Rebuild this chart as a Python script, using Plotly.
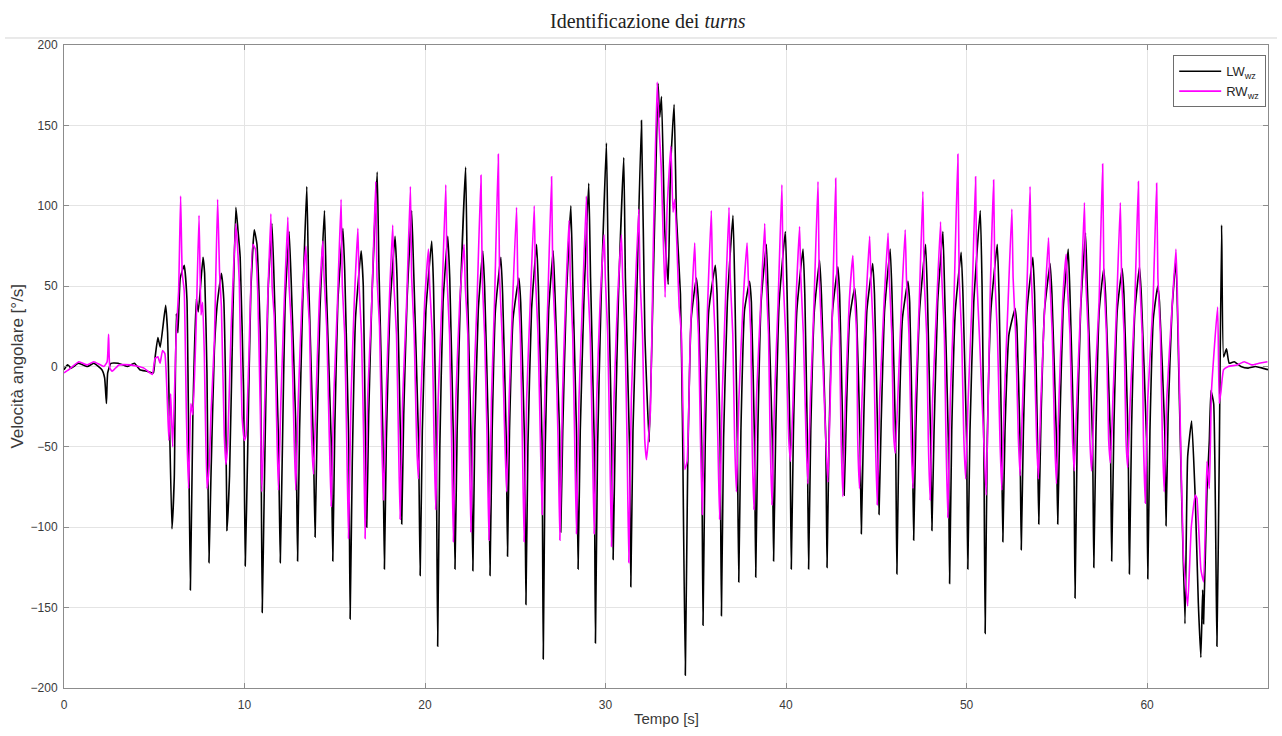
import plotly.graph_objects as go

# ---- data: (time [s], angular velocity [deg/s]) ----
LW_wz = [
    (0.0, -2), (0.2, 1), (0.4, -1), (0.8, 2), (1.3, 0), (1.65, 2), (2.1, -2), (2.25, -7), (2.35, -23),
    (2.42, -4), (2.6, 2), (3.0, 2), (3.5, 0), (3.9, 2), (4.2, -2), (4.6, -3), (4.95, -4), (5.05, 6),
    (5.2, 18), (5.33, 12), (5.63, 38), (5.74, 21), (5.82, -20), (5.98, -101), (6.11, -69), (6.22, 33),
    (6.31, 21), (6.44, 55), (6.66, 63), (6.81, 42), (7.0, -139), (7.14, -30), (7.33, 42), (7.44, 34),
    (7.7, 68), (7.79, 58), (7.92, -4), (8.03, -122), (8.14, -69), (8.33, 10), (8.5, 40), (8.72, 58),
    (8.85, 42), (8.94, -4), (9.03, -102), (9.17, -68), (9.36, 34), (9.52, 99), (9.63, 86), (9.76, 68),
    (9.95, -17), (10.04, -124), (10.17, -56), (10.35, 47), (10.54, 85), (10.69, 76), (10.87, 21),
    (10.98, -153), (11.09, -80), (11.3, 45), (11.52, 89), (11.62, 60), (11.88, -45), (11.98, -122),
    (12.1, -50), (12.25, 40), (12.47, 84), (12.58, 55), (12.85, -40), (12.94, -121), (13.05, -40),
    (13.2, 30), (13.45, 112), (13.55, 55), (13.82, -50), (13.91, -106), (14.02, -40), (14.18, 35),
    (14.43, 97), (14.53, 50), (14.8, -45), (14.89, -121), (15.0, -40), (15.17, 40), (15.45, 86),
    (15.55, 60), (15.78, -50), (15.85, -157), (15.97, -60), (16.15, 30), (16.46, 72), (16.58, 50),
    (16.7, -45), (16.77, -100), (16.88, -30), (17.05, 40), (17.35, 121), (17.45, 60), (17.66, -40),
    (17.75, -126), (17.86, -45), (18.05, 35), (18.34, 81), (18.45, 55), (18.64, -45), (18.71, -98),
    (18.82, -30), (19.0, 40), (19.26, 97), (19.37, 60), (19.64, -45), (19.73, -130), (19.85, -40),
    (20.05, 35), (20.37, 78), (20.47, 50), (20.62, -45), (20.7, -174), (20.82, -50), (21.0, 40),
    (21.26, 81), (21.37, 55), (21.58, -50), (21.66, -126), (21.78, -40), (21.95, 40), (22.25, 124),
    (22.35, 50), (22.55, -45), (22.65, -127), (22.76, -40), (22.95, 35), (23.2, 72), (23.3, 50),
    (23.52, -45), (23.6, -130), (23.72, -40), (23.9, 35), (24.2, 68), (24.3, 45), (24.5, -45),
    (24.57, -118), (24.68, -40), (24.88, 30), (25.2, 55), (25.3, 40), (25.52, -50), (25.59, -148),
    (25.7, -50), (25.9, 35), (26.18, 76), (26.28, 50), (26.48, -45), (26.55, -182), (26.66, -50),
    (26.85, 35), (27.1, 72), (27.2, 45), (27.45, -40), (27.52, -103), (27.63, -40), (27.82, 40),
    (28.08, 100), (28.18, 55), (28.4, -45), (28.48, -126), (28.6, -40), (28.8, 40), (29.07, 114),
    (29.17, 55), (29.37, -45), (29.44, -172), (29.56, -50), (29.75, 40), (30.05, 139), (30.15, 60),
    (30.35, -50), (30.42, -120), (30.54, -40), (30.72, 45), (31.01, 130), (31.1, 55), (31.33, -50),
    (31.4, -137), (31.52, -40), (31.72, 40), (31.99, 153), (32.18, 20), (32.42, -47), (32.64, 51),
    (32.79, 123), (32.91, 176), (33.0, 155), (33.1, 168), (33.28, 85), (33.47, 51), (33.6, 123),
    (33.8, 163), (33.93, 93), (34.15, 45), (34.26, -32), (34.42, -192), (34.55, -64), (34.75, 30),
    (35.03, 55), (35.15, 40), (35.33, -50), (35.4, -161), (35.52, -50), (35.72, 35), (36.08, 63),
    (36.18, 45), (36.35, -50), (36.42, -155), (36.54, -45), (36.75, 40), (37.06, 94), (37.16, 50),
    (37.3, -45), (37.38, -134), (37.5, -40), (37.7, 35), (37.98, 53), (38.08, 40), (38.25, -45),
    (38.32, -131), (38.44, -40), (38.62, 40), (38.91, 76), (39.01, 45), (39.24, -45), (39.31, -121),
    (39.43, -40), (39.62, 40), (39.96, 84), (40.06, 45), (40.22, -45), (40.29, -126), (40.41, -40),
    (40.6, 35), (40.94, 73), (41.04, 45), (41.18, -45), (41.25, -126), (41.37, -40), (41.57, 35),
    (41.86, 66), (41.96, 45), (42.2, -45), (42.27, -125), (42.39, -40), (42.58, 35), (42.87, 62),
    (42.97, 45), (43.15, -45), (43.22, -80), (43.34, -30), (43.52, 30), (43.8, 49), (43.9, 35),
    (44.1, -45), (44.17, -104), (44.29, -40), (44.48, 35), (44.8, 64), (44.9, 45), (45.08, -45),
    (45.15, -92), (45.27, -35), (45.46, 35), (45.77, 73), (45.87, 45), (46.07, -45), (46.14, -129),
    (46.26, -40), (46.45, 30), (46.75, 53), (46.85, 40), (47.0, -45), (47.07, -108), (47.19, -40),
    (47.4, 35), (47.73, 76), (47.83, 45), (48.01, -45), (48.08, -102), (48.2, -40), (48.4, 40),
    (48.69, 84), (48.79, 45), (48.99, -45), (49.06, -135), (49.18, -40), (49.38, 35), (49.7, 71),
    (49.8, 45), (50.0, -45), (50.07, -126), (50.19, -40), (50.4, 40), (50.76, 97), (50.86, 50),
    (50.96, -50), (51.03, -166), (51.15, -45), (51.35, 35), (51.7, 76), (51.8, 45), (51.94, -45),
    (52.01, -109), (52.13, -40), (52.35, 20), (52.69, 36), (52.79, 25), (52.96, -45), (53.03, -114),
    (53.15, -40), (53.35, 35), (53.67, 68), (53.77, 45), (53.93, -45), (54.0, -98), (54.12, -35),
    (54.32, 35), (54.63, 64), (54.73, 45), (54.98, -45), (55.05, -98), (55.17, -35), (55.35, 35),
    (55.63, 73), (55.73, 45), (55.94, -45), (56.01, -144), (56.13, -45), (56.32, 35), (56.59, 83),
    (56.69, 50), (56.98, -45), (57.05, -125), (57.17, -40), (57.35, 35), (57.6, 61), (57.7, 45),
    (57.97, -45), (58.04, -121), (58.16, -40), (58.35, 35), (58.62, 61), (58.72, 45), (58.95, -45),
    (59.02, -129), (59.14, -40), (59.33, 35), (59.58, 62), (59.68, 45), (59.97, -45), (60.04, -132),
    (60.16, -40), (60.35, 30), (60.59, 50), (60.69, 40), (60.98, -40), (61.05, -99), (61.17, -30),
    (61.38, 35), (61.6, 66), (61.79, -20), (62.1, -160), (62.25, -56), (62.47, -34), (62.67, -82),
    (62.84, -147), (62.98, -181), (63.08, -139), (63.13, -160), (63.32, -77), (63.45, -46),
    (63.54, -15), (63.69, -23), (63.87, -174), (64.0, -56), (64.13, 88), (64.24, 6), (64.4, 11),
    (64.55, 2), (64.83, 3), (65.2, 0), (65.6, -1), (66.0, 0), (66.4, -1), (66.7, -2),
]

RW_wz = [
    (0.0, -4), (0.27, -2), (0.82, 3), (1.28, 1), (1.65, 3), (2.21, 0), (2.39, 3), (2.47, 20), (2.54, -1),
    (2.67, -3), (3.04, 1), (3.69, 1), (4.43, -1), (4.89, -5), (5.04, 5), (5.2, 6), (5.32, 2), (5.46, 10),
    (5.59, 8), (5.81, -46), (5.91, -17), (6.02, -50), (6.22, 21), (6.35, 47), (6.46, 106), (6.55, 58),
    (6.66, 47), (6.78, -30), (6.9, -76), (7.03, -23), (7.14, -30), (7.31, 21), (7.48, 94), (7.59, 32),
    (7.68, 40), (7.77, 9), (7.92, -76), (8.05, -61), (8.14, -30), (8.33, 16), (8.51, 104), (8.62, 58),
    (8.72, 37), (8.88, -43), (8.97, -61), (9.07, -48), (9.25, 21), (9.52, 89), (9.62, 73), (9.71, 53),
    (9.86, -30), (9.99, -46), (10.08, -43), (10.23, 1), (10.46, 76), (10.6, 73), (10.73, 47),
    (10.88, -30), (10.96, -78), (11.1, -30), (11.28, 40), (11.46, 95), (11.53, 50), (11.65, 30),
    (11.8, -45), (11.88, -77), (12.02, -20), (12.2, 40), (12.4, 93), (12.47, 50), (12.6, 25),
    (12.75, -45), (12.84, -77), (12.98, -20), (13.18, 40), (13.4, 75), (13.47, 50), (13.6, 25),
    (13.72, -45), (13.82, -67), (13.96, -20), (14.14, 40), (14.34, 78), (14.41, 55), (14.55, 25),
    (14.7, -45), (14.8, -87), (14.94, -20), (15.15, 40), (15.35, 104), (15.42, 50), (15.55, 20),
    (15.66, -45), (15.76, -107), (15.9, -20), (16.08, 40), (16.28, 86), (16.35, 50), (16.48, 20),
    (16.6, -45), (16.68, -107), (16.82, -20), (17.05, 40), (17.27, 115), (17.34, 55), (17.48, 25),
    (17.6, -45), (17.7, -83), (17.84, -20), (18.02, 40), (18.21, 88), (18.28, 50), (18.42, 20),
    (18.53, -45), (18.62, -95), (18.76, -20), (18.98, 40), (19.19, 112), (19.26, 55), (19.4, 20),
    (19.53, -45), (19.63, -70), (19.77, -20), (19.98, 40), (20.19, 73), (20.26, 50), (20.4, 20),
    (20.5, -45), (20.59, -89), (20.73, -20), (20.93, 40), (21.15, 113), (21.22, 55), (21.36, 20),
    (21.47, -45), (21.57, -109), (21.71, -20), (21.92, 40), (22.16, 76), (22.23, 50), (22.37, 20),
    (22.45, -45), (22.54, -103), (22.68, -20), (22.88, 40), (23.1, 119), (23.17, 55), (23.3, 20),
    (23.44, -45), (23.54, -108), (23.68, -20), (23.85, 40), (24.06, 132), (24.13, 55), (24.27, 20),
    (24.42, -45), (24.52, -78), (24.66, -20), (24.85, 40), (25.07, 99), (25.14, 55), (25.28, 20),
    (25.39, -45), (25.49, -109), (25.63, -20), (25.83, 40), (26.05, 100), (26.12, 55), (26.26, 20),
    (26.39, -45), (26.49, -92), (26.63, -20), (26.8, 40), (27.01, 118), (27.08, 55), (27.22, 20),
    (27.37, -45), (27.47, -108), (27.61, -20), (27.78, 40), (27.98, 91), (28.05, 55), (28.18, 20),
    (28.29, -45), (28.39, -104), (28.53, -20), (28.72, 40), (28.94, 106), (29.01, 55), (29.15, 20),
    (29.27, -45), (29.37, -104), (29.51, -20), (29.7, 40), (29.92, 82), (29.99, 55), (30.12, 20),
    (30.23, -45), (30.33, -112), (30.47, -20), (30.66, 40), (30.88, 82), (30.95, 55), (31.08, 20),
    (31.19, -45), (31.29, -122), (31.43, -20), (31.62, 40), (31.84, 98), (31.91, 55), (32.05, 20),
    (32.17, -45), (32.27, -58), (32.49, -27), (32.64, 72), (32.86, 177), (32.97, 148), (33.08, 125),
    (33.3, 43), (33.41, 98), (33.62, 137), (33.74, 96), (33.84, 104), (34.08, 37), (34.2, 21),
    (34.39, -64), (34.52, -59), (34.7, 20), (34.94, 77), (35.01, 50), (35.15, 20), (35.26, -45),
    (35.36, -92), (35.5, -20), (35.66, 40), (35.86, 97), (35.93, 55), (36.07, 20), (36.22, -45),
    (36.32, -95), (36.46, -20), (36.64, 40), (36.84, 99), (36.91, 55), (37.05, 20), (37.15, -45),
    (37.25, -78), (37.39, -20), (37.62, 40), (37.84, 77), (37.91, 55), (38.05, 20), (38.12, -45),
    (38.22, -89), (38.36, -20), (38.6, 40), (38.82, 89), (38.89, 55), (39.03, 20), (39.12, -45),
    (39.22, -86), (39.36, -20), (39.56, 40), (39.77, 113), (39.84, 55), (39.98, 20), (40.15, -45),
    (40.25, -59), (40.39, -20), (40.55, 40), (40.75, 87), (40.82, 55), (40.96, 20), (41.11, -45),
    (41.21, -73), (41.35, -20), (41.55, 40), (41.77, 115), (41.84, 55), (41.98, 20), (42.2, -45),
    (42.32, -72), (42.45, -20), (42.58, 40), (42.75, 117), (42.82, 55), (42.96, 20), (43.05, -45),
    (43.15, -81), (43.29, -20), (43.5, 40), (43.7, 69), (43.77, 50), (43.91, 20), (43.97, -45),
    (44.07, -76), (44.21, -20), (44.43, 40), (44.63, 81), (44.7, 55), (44.84, 20), (44.95, -45),
    (45.05, -86), (45.19, -20), (45.43, 40), (45.65, 83), (45.72, 55), (45.86, 20), (45.95, -40),
    (46.05, -54), (46.19, -20), (46.4, 40), (46.6, 85), (46.67, 55), (46.81, 20), (46.93, -45),
    (47.03, -76), (47.17, -20), (47.38, 40), (47.58, 109), (47.65, 55), (47.79, 20), (47.88, -45),
    (47.98, -83), (48.12, -20), (48.35, 40), (48.56, 90), (48.63, 55), (48.77, 20), (48.86, -45),
    (48.96, -94), (49.1, -20), (49.3, 40), (49.52, 132), (49.59, 55), (49.73, 20), (49.85, -45),
    (49.95, -70), (50.09, -20), (50.3, 40), (50.5, 118), (50.57, 55), (50.71, 20), (50.95, -45),
    (51.09, -80), (51.2, -20), (51.3, 40), (51.5, 116), (51.57, 55), (51.71, 20), (51.85, -45),
    (51.95, -77), (52.09, -20), (52.3, 40), (52.51, 98), (52.58, 55), (52.72, 20), (52.87, -45),
    (52.97, -68), (53.11, -20), (53.32, 40), (53.52, 112), (53.59, 55), (53.73, 20), (53.88, -45),
    (53.98, -70), (54.12, -20), (54.34, 40), (54.54, 80), (54.61, 55), (54.75, 20), (54.88, -45),
    (54.98, -73), (55.12, -20), (55.32, 40), (55.52, 70), (55.59, 50), (55.73, 20), (55.87, -45),
    (55.97, -65), (56.11, -20), (56.33, 40), (56.53, 102), (56.6, 55), (56.74, 20), (56.83, -45),
    (56.93, -65), (57.07, -20), (57.34, 40), (57.54, 126), (57.61, 55), (57.75, 20), (57.87, -45),
    (57.97, -60), (58.11, -20), (58.32, 40), (58.52, 102), (58.59, 55), (58.73, 20), (58.83, -45),
    (58.93, -63), (59.07, -20), (59.32, 40), (59.52, 115), (59.59, 55), (59.73, 20), (59.8, -45),
    (59.9, -85), (60.04, -20), (60.33, 40), (60.53, 114), (60.6, 55), (60.74, 20), (60.85, -45),
    (60.95, -78), (61.09, -20), (61.4, 40), (61.6, 73), (61.67, 50), (61.81, -20), (62.01, -117),
    (62.25, -149), (62.45, -100), (62.67, -80), (62.76, -82), (62.98, -126), (63.13, -134),
    (63.32, -59), (63.45, -76), (63.57, -15), (63.91, 37), (64.0, -23), (64.09, -16), (64.24, -2),
    (64.5, 0), (65.0, 1), (65.38, 3), (65.8, 1), (66.2, 2), (66.67, 3),
]

lw_t = [p[0] for p in LW_wz]
lw_v = [p[1] for p in LW_wz]
rw_t = [p[0] for p in RW_wz]
rw_v = [p[1] for p in RW_wz]

x_ticks = [0, 10, 20, 30, 40, 50, 60]
y_ticks = [-200, -150, -100, -50, 0, 50, 100, 150, 200]

fig = go.Figure()
fig.add_trace(go.Scatter(x=lw_t, y=lw_v, mode="lines", name="LW<sub>wz</sub>",
                         line=dict(color="#000000", width=1.6, shape="spline", smoothing=0.4)))
fig.add_trace(go.Scatter(x=rw_t, y=rw_v, mode="lines", name="RW<sub>wz</sub>",
                         line=dict(color="#ff00ff", width=1.6, shape="spline", smoothing=0.4)))

axis_common = dict(
    showline=True, linecolor="#8c8c8c", linewidth=1, mirror="ticks",
    ticks="inside", ticklen=5, tickcolor="#8c8c8c",
    showgrid=True, gridcolor="#e4e4e4", gridwidth=1, zeroline=False,
    tickfont=dict(family="Liberation Sans, Arial, sans-serif", size=12, color="#3a3a3a"),
)

fig.update_xaxes(range=[0, 66.7], tickvals=x_ticks, ticklabelstandoff=6, **axis_common)
fig.update_yaxes(range=[-200, 200], tickvals=y_ticks, ticklabelstandoff=3, **axis_common)

fig.update_layout(
    width=1282, height=736,
    margin=dict(l=64, r=14, t=45, b=48),
    paper_bgcolor="white", plot_bgcolor="white",
    showlegend=True,
    legend=dict(x=0.9985, y=0.984, xanchor="right", yanchor="top",
                bgcolor="white", bordercolor="#6e6e6e", borderwidth=1,
                font=dict(family="Liberation Sans, Arial, sans-serif", size=13, color="#262626"),
                tracegroupgap=0, itemwidth=42),
    annotations=[
        dict(text="Identificazione dei <i>turns</i>", xref="paper", yref="paper",
             x=0.485, y=1.038, xanchor="center", yanchor="middle", showarrow=False,
             font=dict(family="Liberation Serif, Times New Roman, serif", size=20, color="#222222")),
        dict(text="Velocità angolare [°/s]", xref="paper", yref="paper",
             x=-0.039, y=0.5, xanchor="center", yanchor="middle", textangle=-90, showarrow=False,
             font=dict(family="Liberation Sans, Arial, sans-serif", size=17, color="#3a3a3a")),
        dict(text="Tempo [s]", xref="paper", yref="paper",
             x=0.5, y=-0.048, xanchor="center", yanchor="middle", showarrow=False,
             font=dict(family="Liberation Sans, Arial, sans-serif", size=15, color="#3a3a3a")),
    ],
    shapes=[
        dict(type="line", xref="paper", yref="paper", x0=-0.049, x1=1.0075, y0=1.0109, y1=1.0109,
             line=dict(color="#d4d4d4", width=1)),
    ],
)

fig.write_html("out.html")
